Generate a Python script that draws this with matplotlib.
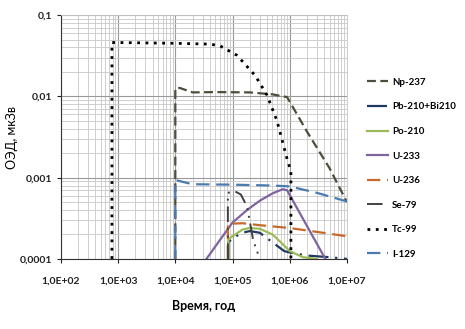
import numpy as np
import matplotlib.pyplot as plt
from matplotlib.ticker import LogLocator, NullFormatter, FixedLocator

plt.rcParams['font.family'] = ['Lato', 'DejaVu Sans']

# Time, years, and dose, mkSv, for each nuclide
np237_t = [1e4, 1e4, 1.2e4, 2e4, 5e4, 2e5, 5e5, 9e5, 2e6, 5e6, 1e7]
np237_d = [1e-4, 0.0125, 0.0127, 0.0112, 0.0113, 0.0112, 0.0106, 0.0098, 0.0037, 0.0013, 0.0005]

pb210_t = [8.5e4, 8.5e4, 1e5, 1.5e5, 2e5, 3e5, 5e5, 8e5, 1e6, 2e6, 5e6, 1e7]
pb210_d = [1e-4, 1.6e-4, 1.8e-4, 2.1e-4, 2.2e-4, 2.1e-4, 1.6e-4, 1.25e-4, 1.2e-4, 1.1e-4, 1.05e-4, 1.0e-4]

po210_t = [8.5e4, 8.5e4, 1e5, 1.5e5, 2e5, 3e5, 5e5, 7e5, 1e6, 1.7e6, 3e6]
po210_d = [1e-4, 1.75e-4, 1.9e-4, 2.3e-4, 2.4e-4, 2.35e-4, 2.0e-4, 1.6e-4, 1.25e-4, 1.05e-4, 1.0e-4]

u233_t = [3.5e4, 6e4, 1e5, 1.8e5, 3e5, 5e5, 7.5e5, 9e5, 4.2e6]
u233_d = [1e-4, 1.7e-4, 2.8e-4, 4.0e-4, 5.2e-4, 6.4e-4, 7.2e-4, 7.0e-4, 1e-4]

u236_t = [8.3e4, 8.3e4, 1.5e5, 3e5, 1e6, 3e6, 1e7]
u236_d = [1e-4, 2.7e-4, 2.75e-4, 2.6e-4, 2.4e-4, 2.15e-4, 1.9e-4]

se79_t = [8.3e4, 8.3e4, 1.1e5, 1.4e5, 1.8e5, 2.3e5, 3e5]
se79_d = [1e-4, 6.5e-4, 6.8e-4, 6.2e-4, 4.4e-4, 1.7e-4, 1e-4]

tc99_t = [7.8e2, 7.8e2, 1e3, 1e4, 4e4, 6e4, 1.2e5, 2.5e5, 4e5, 6e5, 9e5, 1.05e6, 1.05e6]
tc99_d = [1e-4, 0.046, 0.046, 0.045, 0.044, 0.042, 0.032, 0.018, 0.0104, 0.005, 0.0017, 0.0012, 1e-4]

i129_t = [1e4, 1e4, 1.1e4, 2e4, 1e5, 5e5, 1e6, 3e6, 1e7]
i129_d = [1e-4, 0.00093, 0.00092, 0.00083, 0.00082, 0.00080, 0.00078, 0.00065, 0.00051]

xticks = [1e2, 1e3, 1e4, 1e5, 1e6, 1e7]
xtick_labels = ['1,0E+02', '1,0E+03', '1,0E+04', '1,0E+05', '1,0E+06', '1,0E+07']
yticks = [1e-4, 1e-3, 1e-2, 1e-1]
ytick_labels = ['0,0001', '0,001', '0,01', '0,1']

fig = plt.figure(figsize=(4.65, 3.29), dpi=100)
ax = fig.add_axes([0.131, 0.213, 0.615, 0.741])

ax.plot(np237_t, np237_d, color='#4d4d3a', lw=1.6, ls=(0, (4, 2)), label='Np-237')
ax.plot(pb210_t, pb210_d, color='#1f3a5f', lw=1.6, ls=(0, (9, 3, 1, 3)), label='Pb-210+Bi210')
ax.plot(po210_t, po210_d, color='#9bbb59', lw=1.6, label='Po-210')
ax.plot(u233_t, u233_d, color='#8064a2', lw=1.6, label='U-233')
ax.plot(u236_t, u236_d, color='#c8692a', lw=1.6, ls=(0, (6, 3)), label='U-236')
ax.plot(se79_t, se79_d, color='#404040', lw=1.4, ls=(0, (8, 3, 1, 3, 1, 3)), label='Se-79')
ax.plot(tc99_t, tc99_d, color='black', lw=2.0, ls=(0, (1, 2)), label='Tc-99')
ax.plot(i129_t, i129_d, color='#4a7ab0', lw=1.6, ls=(0, (6, 3)), label='I-129')

ax.set_xscale('log')
ax.set_yscale('log')
ax.set_xlim(1e2, 1e7)
ax.set_ylim(1e-4, 1e-1)

ax.xaxis.set_major_locator(FixedLocator(xticks))
ax.set_xticklabels(xtick_labels)
ax.xaxis.set_minor_locator(LogLocator(base=10, subs=np.arange(2, 10)))
ax.xaxis.set_minor_formatter(NullFormatter())
ax.yaxis.set_major_locator(FixedLocator(yticks))
ax.set_yticklabels(ytick_labels)
ax.yaxis.set_minor_locator(LogLocator(base=10, subs=np.arange(2, 10)))
ax.yaxis.set_minor_formatter(NullFormatter())

ax.grid(True, which='major', color='#999999', lw=0.8)
ax.grid(True, which='minor', color='#c8c8c8', lw=0.6)
ax.set_axisbelow(True)

for side in ['top', 'right']:
    ax.spines[side].set_color('#c8c8c8')
    ax.spines[side].set_linewidth(0.6)
ax.spines['left'].set_color('#333333')
ax.spines['bottom'].set_color('#333333')

ax.tick_params(axis='both', which='major', labelsize=7.5, length=3, pad=3, colors='#222222')
ax.tick_params(axis='x', which='major', pad=10)
ax.tick_params(axis='both', which='minor', length=0)
for lbl in ax.get_xticklabels() + ax.get_yticklabels():
    lbl.set_fontweight('bold')

ax.set_xlabel('Время, год', fontsize=9, labelpad=10, fontweight='bold')
ax.set_ylabel('ОЭД, мкЗв', fontsize=9)
ax.yaxis.set_label_coords(-0.15, 0.5)

fig.legend(loc='upper left', bbox_to_anchor=(0.77, 0.79), frameon=False,
           handlelength=2.2, handletextpad=0.4, labelspacing=1.6,
           prop={'weight': 'bold', 'size': 7})

fig.savefig('out.png', dpi=100)
